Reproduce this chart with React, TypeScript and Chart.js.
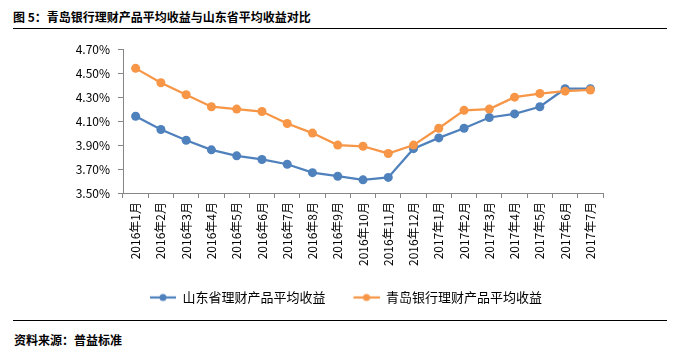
import React, { useEffect, useRef } from "react";
import { Chart, registerables } from "chart.js";

Chart.register(...registerables);

const categories = [
  "2016年1月", "2016年2月", "2016年3月", "2016年4月", "2016年5月", "2016年6月",
  "2016年7月", "2016年8月", "2016年9月", "2016年10月", "2016年11月", "2016年12月",
  "2017年1月", "2017年2月", "2017年3月", "2017年4月", "2017年5月", "2017年6月", "2017年7月",
];
const shandongName = "山东省理财产品平均收益";
const qingdaoName = "青岛银行理财产品平均收益";
const shandongValues = [4.14, 4.03, 3.94, 3.86, 3.81, 3.78, 3.74, 3.67, 3.64, 3.61, 3.63, 3.87, 3.96, 4.04, 4.13, 4.16, 4.22, 4.37, 4.37];
const qingdaoValues = [4.54, 4.42, 4.32, 4.22, 4.20, 4.18, 4.08, 4.00, 3.90, 3.89, 3.83, 3.90, 4.04, 4.19, 4.20, 4.30, 4.33, 4.35, 4.36];
const yMin = 3.5;
const yMax = 4.7;
const yStep = 0.2;
const titleText = "图 5：青岛银行理财产品平均收益与山东省平均收益对比";
const sourceText = "资料来源：普益标准";

const BLUE = "#4F81BD";
const ORANGE = "#F79646";
const FONT = '"Microsoft YaHei", "Noto Sans CJK SC", sans-serif';

// legend marker: 14px blank on the left, then a 26px line with a dot
function legendMarker(color: string): HTMLCanvasElement {
  const c = document.createElement("canvas");
  c.width = 40;
  c.height = 10;
  const ctx = c.getContext("2d")!;
  ctx.strokeStyle = color;
  ctx.lineWidth = 2.25;
  ctx.beginPath();
  ctx.moveTo(14, 5);
  ctx.lineTo(40, 5);
  ctx.stroke();
  ctx.fillStyle = color;
  ctx.beginPath();
  ctx.arc(27, 5, 3.5, 0, Math.PI * 2);
  ctx.fill();
  return c;
}

export default function App() {
  const ref = useRef<HTMLCanvasElement>(null);
  useEffect(() => {
    if (!ref.current) return;
    const markers = [legendMarker(BLUE), legendMarker(ORANGE)];
    const chart = new Chart(ref.current, {
      type: "line",
      data: {
        labels: categories,
        datasets: [
          {
            label: shandongName,
            data: shandongValues,
            borderColor: BLUE,
            backgroundColor: BLUE,
            pointBackgroundColor: BLUE,
            pointBorderColor: BLUE,
            pointRadius: 4.5,
            pointBorderWidth: 0,
            borderWidth: 2.25,
            tension: 0,
            order: 1,
          },
          {
            label: qingdaoName,
            data: qingdaoValues,
            borderColor: ORANGE,
            backgroundColor: ORANGE,
            pointBackgroundColor: ORANGE,
            pointBorderColor: ORANGE,
            pointRadius: 4.5,
            pointBorderWidth: 0,
            borderWidth: 2.25,
            tension: 0,
            order: 0,
          },
        ],
      },
      options: {
        animation: false,
        responsive: false,
        maintainAspectRatio: false,
        layout: { padding: { left: 0, right: 0, top: 12, bottom: 0 } },
        scales: {
          x: {
            type: "category",
            offset: true,
            grid: {
              display: true,
              offset: true,
              drawOnChartArea: false,
              drawTicks: true,
              tickLength: 5,
              color: "#868686",
            },
            border: { display: true, color: "#868686", width: 1 },
            ticks: {
              minRotation: 90,
              maxRotation: 90,
              autoSkip: false,
              padding: 4,
              color: "#000",
              font: { family: FONT, size: 12 },
            },
            afterFit: (s: any) => {
              s.height = 84;
            },
          },
          y: {
            min: yMin,
            max: yMax,
            position: "left",
            grid: {
              display: true,
              drawOnChartArea: false,
              drawTicks: true,
              tickLength: 5,
              color: "#868686",
            },
            border: { display: true, color: "#868686", width: 1 },
            ticks: {
              stepSize: yStep,
              padding: 8,
              color: "#000",
              font: { family: FONT, size: 12 },
              callback: (v: any) => Number(v).toFixed(2) + "%",
            },
            afterFit: (s: any) => {
              s.width = 123;
            },
          },
          yR: {
            type: "linear",
            position: "right",
            display: true,
            grid: { display: false },
            border: { display: false },
            ticks: { display: false },
            afterFit: (s: any) => {
              s.width = 75;
            },
          },
        },
        plugins: {
          title: { display: false },
          tooltip: { enabled: false },
          legend: {
            display: true,
            position: "bottom",
            labels: {
              usePointStyle: true,
              pointStyleWidth: 40,
              padding: 14,
              color: "#000",
              font: { family: FONT, size: 13 },
              sort: (a: any, b: any) => a.datasetIndex - b.datasetIndex,
              generateLabels: (ch: any) => {
                const items = Chart.defaults.plugins.legend.labels.generateLabels(ch);
                return items.map((it: any) => ({
                  ...it,
                  pointStyle: markers[it.datasetIndex],
                }));
              },
            },
          },
        },
      },
    });
    return () => chart.destroy();
  }, []);

  return (
    <div style={{ position: "absolute", left: 0, top: 0, width: 678, height: 354, background: "#fff", fontFamily: FONT }}>
      <div style={{ position: "absolute", left: 13, top: 9, fontSize: 12, lineHeight: "16px", fontWeight: "bold", color: "#000", whiteSpace: "nowrap" }}>
        {titleText}
      </div>
      <div style={{ position: "absolute", left: 13, top: 28, width: 654, height: 0, borderTop: "1px solid #000" }} />
      <canvas ref={ref} width={678} height={280} style={{ position: "absolute", left: 0, top: 34, width: 678, height: 280 }} />
      <div style={{ position: "absolute", left: 13, top: 320, width: 654, height: 0, borderTop: "1px solid #000" }} />
      <div style={{ position: "absolute", left: 14, top: 332, fontSize: 12, lineHeight: "16px", fontWeight: "bold", color: "#000", whiteSpace: "nowrap" }}>
        {sourceText}
      </div>
    </div>
  );
}
